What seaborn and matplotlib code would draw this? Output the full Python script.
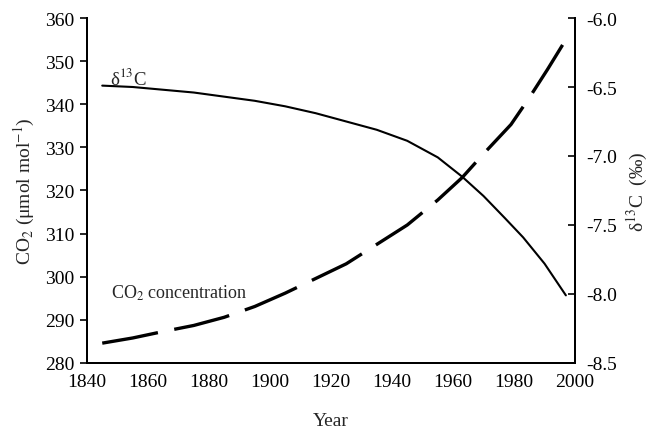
import matplotlib
matplotlib.use("Agg")
import matplotlib.pyplot as plt
import seaborn as sns
import pandas as pd

# d13C (per mil)
d13c_year = [1845, 1855, 1865, 1875, 1885, 1895, 1905, 1915, 1925, 1935, 1945, 1955,
             1963, 1970, 1977, 1983, 1990, 1997]
d13c_val = [-6.49, -6.50, -6.52, -6.54, -6.57, -6.60, -6.64, -6.69, -6.75, -6.81, -6.89, -7.01,
            -7.15, -7.29, -7.45, -7.59, -7.78, -8.01]

# CO2 concentration (umol/mol)
co2_year = [1845, 1855, 1865, 1875, 1885, 1895, 1905, 1915, 1925, 1935, 1945, 1955,
            1963, 1970, 1979, 1985, 1991, 1997]
co2_val = [284.6, 285.8, 287.3, 288.7, 290.6, 293.1, 296.2, 299.6, 303.0, 307.5, 312.0, 317.8,
           323.0, 328.5, 335.3, 341.5, 348.1, 355.0]

x_ticks = [1840, 1860, 1880, 1900, 1920, 1940, 1960, 1980, 2000]
left_ticks = [280, 290, 300, 310, 320, 330, 340, 350, 360]
right_ticks = [-8.5, -8.0, -7.5, -7.0, -6.5, -6.0]

sns.set_style("white")
plt.rcParams["font.family"] = ["Liberation Serif", "DejaVu Serif"]
plt.rcParams["mathtext.fontset"] = "stix"

fs = 14

fig = plt.figure(figsize=(6.53, 4.31), dpi=100)
ax = fig.add_axes([0.1332, 0.1555, 0.7474, 0.8004])
ax2 = ax.twinx()

co2 = pd.DataFrame({"year": co2_year, "co2": co2_val})
d13 = pd.DataFrame({"year": d13c_year, "d13c": d13c_val})

sns.lineplot(data=co2, x="year", y="co2", ax=ax, color="black", lw=2.4)
ax.lines[0].set_dashes([17, 5])
sns.lineplot(data=d13, x="year", y="d13c", ax=ax2, color="black", lw=1.5)

ax.set_xlim(1840, 2000)
ax.set_ylim(280, 360)
ax2.set_ylim(-8.5, -6.0)
ax.set_xticks(x_ticks)
ax.set_yticks(left_ticks)
ax2.set_yticks(right_ticks)
ax2.set_yticklabels([f"{v:.1f}" for v in right_ticks])

for a in (ax, ax2):
    a.spines["top"].set_visible(False)
    for s in ("left", "right", "bottom"):
        a.spines[s].set_linewidth(1.4)
        a.spines[s].set_color("black")
    a.grid(False)

ax.tick_params(axis="x", direction="in", length=5, width=1.2, labelsize=fs, pad=7, colors="black")
ax.tick_params(axis="y", direction="out", length=5, width=1.2, labelsize=fs, colors="black", left=True, pad=4)
ax2.tick_params(axis="y", direction="in", length=5, width=1.2, labelsize=fs, colors="black", right=True, pad=8)

ax.set_xlabel("Year", fontsize=fs, labelpad=16)
ax.set_ylabel("CO$_2$ (μmol mol$^{-1}$)", fontsize=fs, labelpad=6)
ax2.set_ylabel("δ$^{13}$C  (‰)", fontsize=fs, labelpad=6)

ax.text(1847.5, 344.8, "δ$^{13}$C", fontsize=13.5, ha="left", va="baseline")
ax.text(1848, 295.2, "CO$_2$ concentration", fontsize=13, ha="left", va="baseline")

fig.savefig("out.png", dpi=100)
